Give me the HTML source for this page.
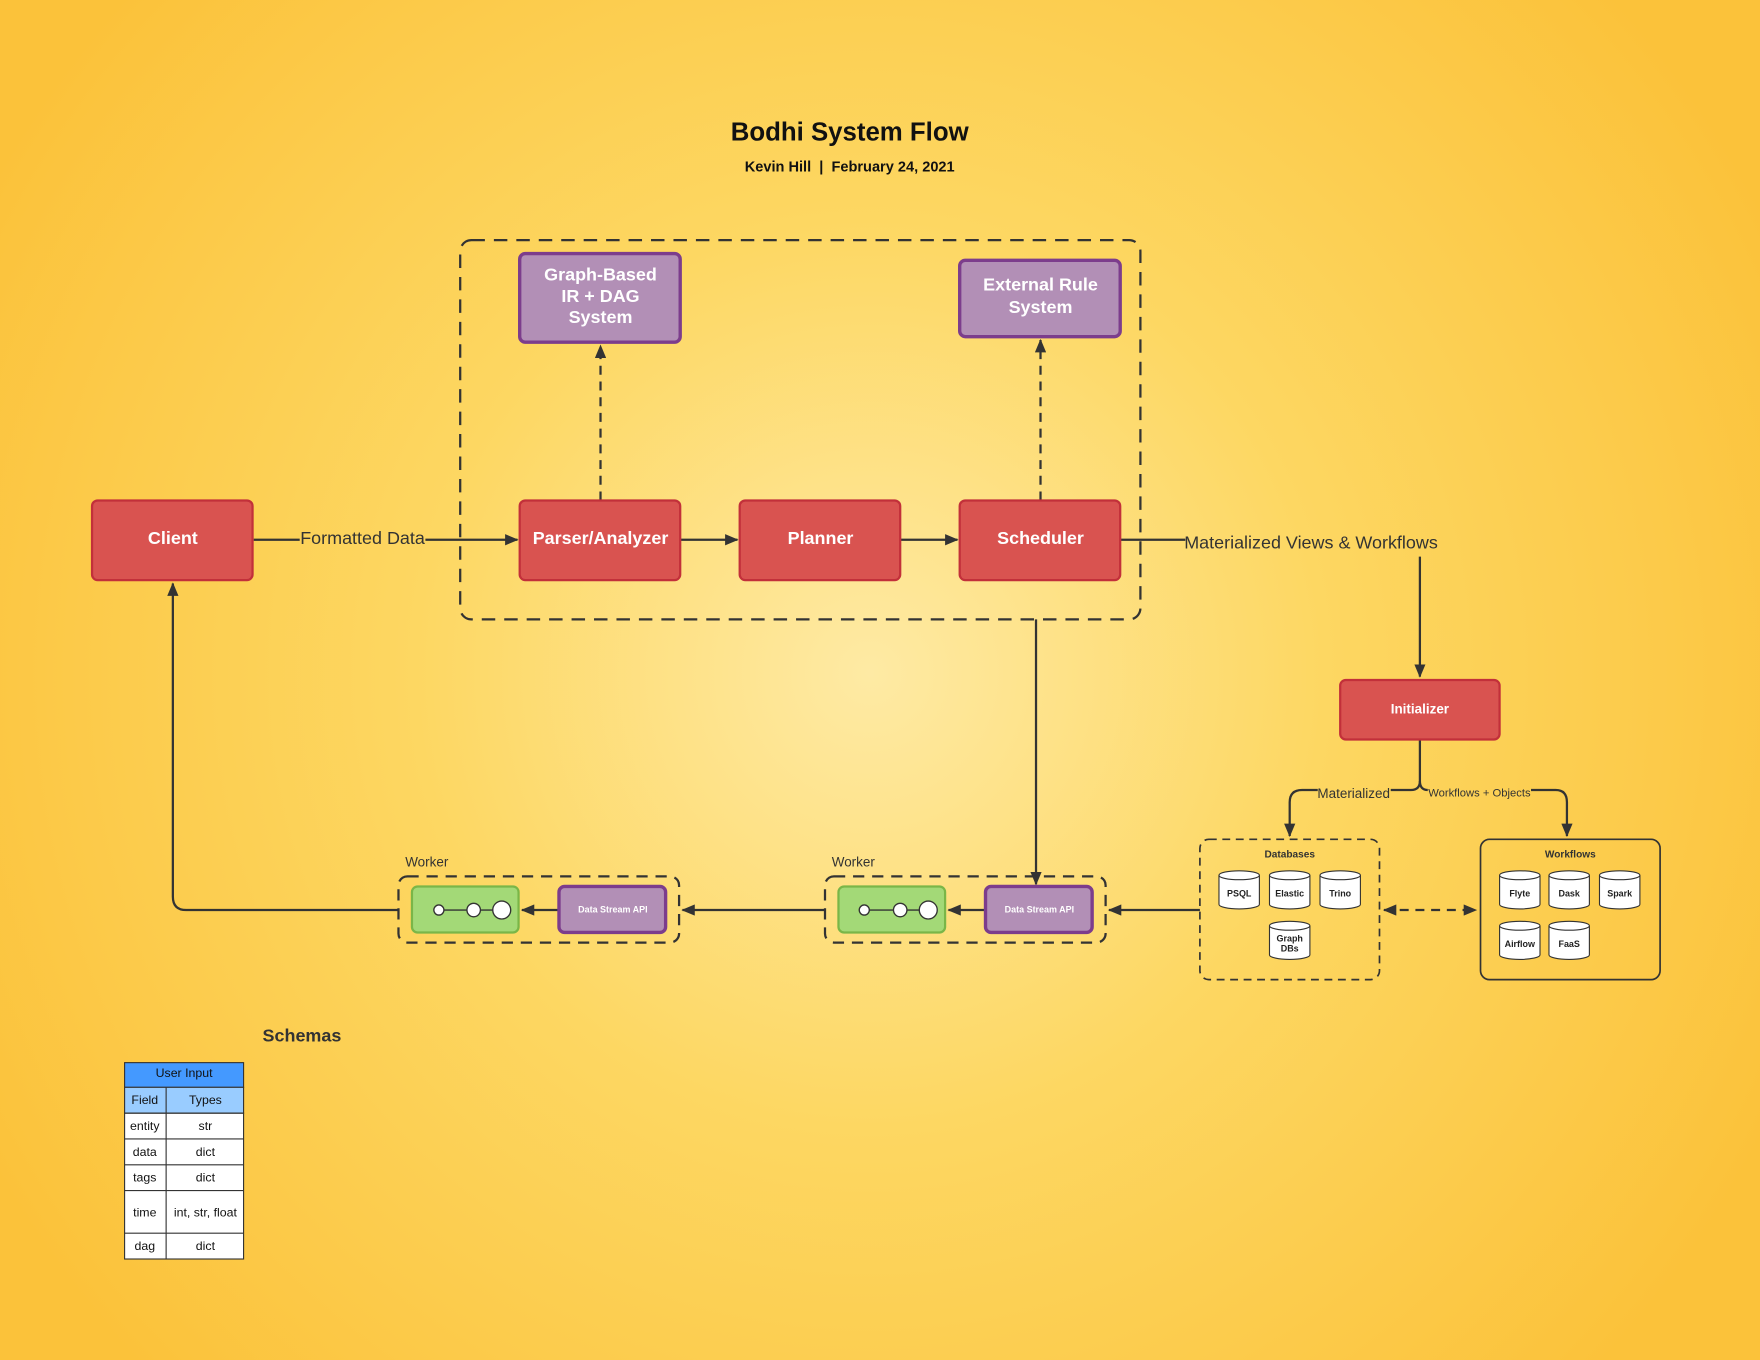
<!DOCTYPE html>
<html><head><style>html,body{margin:0;padding:0;width:1760px;height:1360px;overflow:hidden}</style></head>
<body>
<svg width="1760" height="1360" viewBox="0 0 1568 1212" preserveAspectRatio="none" xmlns="http://www.w3.org/2000/svg" font-family="Liberation Sans, Arial, sans-serif">
<defs>
<radialGradient id="bg" cx="775" cy="600" r="900" gradientUnits="userSpaceOnUse">
<stop offset="0" stop-color="#feeaa4"/><stop offset="0.45" stop-color="#fdd762"/><stop offset="1" stop-color="#fbc23a"/>
</radialGradient>
<marker id="ah" markerWidth="12" markerHeight="10" refX="11" refY="5" orient="auto" markerUnits="userSpaceOnUse"><path d="M0,0 L12,5 L0,10 Z" fill="#333"/></marker>
<marker id="ahs" markerWidth="12" markerHeight="10" refX="1" refY="5" orient="auto" markerUnits="userSpaceOnUse"><path d="M12,0 L0,5 L12,10 Z" fill="#333"/></marker>
</defs>
<rect width="1568" height="1212" fill="url(#bg)"/>
<text x="757" y="125" text-anchor="middle" font-size="23" font-weight="bold" fill="#111">Bodhi System Flow</text>
<text x="757" y="153" text-anchor="middle" font-size="13" font-weight="bold" fill="#111" xml:space="preserve">Kevin Hill  |  February 24, 2021</text>

<rect x="410" y="214" width="606" height="338" rx="10" fill="none" stroke="#333" stroke-width="2" stroke-dasharray="12 8"/>

<g stroke="#333" stroke-width="2" fill="none">
<line x1="535" y1="446" x2="535" y2="308" stroke-dasharray="8 6" marker-end="url(#ah)"/>
<line x1="927" y1="446" x2="927" y2="303" stroke-dasharray="8 6" marker-end="url(#ah)"/>
<line x1="226" y1="481" x2="267" y2="481"/>
<line x1="379" y1="481" x2="461" y2="481" marker-end="url(#ah)"/>
<line x1="606" y1="481" x2="657" y2="481" marker-end="url(#ah)"/>
<line x1="802" y1="481" x2="853" y2="481" marker-end="url(#ah)"/>
<line x1="998" y1="481" x2="1056" y2="481"/>
<line x1="1265" y1="496" x2="1265" y2="603" marker-end="url(#ah)"/>
<line x1="923" y1="552" x2="923" y2="788" marker-end="url(#ah)"/>
<path d="M1174,704 L1160,704 Q1149,704 1149,715 L1149,745" marker-end="url(#ah)"/>
<path d="M1265,659 L1265,696 Q1265,704 1257,704 L1239,704"/>
<path d="M1265,696 Q1265,704 1272,704"/>
<path d="M1364,704 L1386,704 Q1396,704 1396,715 L1396,745" marker-end="url(#ah)"/>
<line x1="1069" y1="811" x2="988" y2="811" marker-end="url(#ah)"/>
<line x1="1233" y1="811" x2="1315" y2="811" stroke-dasharray="8 6" marker-start="url(#ahs)" marker-end="url(#ah)"/>
<line x1="735" y1="811" x2="608" y2="811" marker-end="url(#ah)"/>
<path d="M355,811 L166,811 Q154,811 154,799 L154,520" marker-end="url(#ah)"/>
<line x1="878" y1="811" x2="845" y2="811" marker-end="url(#ah)"/>
<line x1="498" y1="811" x2="465" y2="811" marker-end="url(#ah)"/>
</g>

<text x="323" y="485" text-anchor="middle" font-size="16" fill="#333">Formatted Data</text>
<text x="1168" y="489" text-anchor="middle" font-size="16" fill="#333">Materialized Views &amp; Workflows</text>
<text x="1206" y="711" text-anchor="middle" font-size="12" fill="#333">Materialized</text>
<text x="1318" y="710" text-anchor="middle" font-size="10" fill="#333">Workflows + Objects</text>

<g stroke="#c2303a" stroke-width="2" fill="#d95350">
<rect x="82" y="446" width="143" height="71" rx="5"/>
<rect x="463" y="446" width="143" height="71" rx="5"/>
<rect x="659" y="446" width="143" height="71" rx="5"/>
<rect x="855" y="446" width="143" height="71" rx="5"/>
<rect x="1194" y="606" width="142" height="53" rx="5"/>
</g>
<g fill="#fff" font-weight="bold" text-anchor="middle" font-size="16">
<text x="154" y="485">Client</text>
<text x="535" y="485">Parser/Analyzer</text>
<text x="731" y="485">Planner</text>
<text x="927" y="485">Scheduler</text>
<text x="1265" y="636" font-size="12">Initializer</text>
</g>

<g stroke="#7c3d8c" stroke-width="3" fill="#b28fb6">
<rect x="463" y="226" width="143" height="79" rx="5"/>
<rect x="855" y="232" width="143" height="68" rx="5"/>
</g>
<g fill="#fff" font-weight="bold" text-anchor="middle" font-size="16">
<text x="535" y="250">Graph-Based</text><text x="535" y="269">IR + DAG</text><text x="535" y="288">System</text>
<text x="927" y="259">External Rule</text><text x="927" y="279">System</text>
</g>

<g>
<rect x="355" y="781" width="250" height="59" rx="8" fill="none" stroke="#333" stroke-width="2" stroke-dasharray="10 7"/>
<rect x="735" y="781" width="250" height="59" rx="8" fill="none" stroke="#333" stroke-width="2" stroke-dasharray="10 7"/>
<text x="361" y="772" font-size="12" fill="#333">Worker</text>
<text x="741" y="772" font-size="12" fill="#333">Worker</text>
<rect x="367" y="790" width="95" height="41" rx="5" fill="#a3d977" stroke="#7ab648" stroke-width="2"/>
<rect x="747" y="790" width="95" height="41" rx="5" fill="#a3d977" stroke="#7ab648" stroke-width="2"/>
<rect x="498" y="790" width="95" height="41" rx="5" fill="#b28fb6" stroke="#7c3d8c" stroke-width="3"/>
<rect x="878" y="790" width="95" height="41" rx="5" fill="#b28fb6" stroke="#7c3d8c" stroke-width="3"/>
<text x="546" y="813" text-anchor="middle" font-size="8" font-weight="bold" fill="#fff">Data Stream API</text>
<text x="926" y="813" text-anchor="middle" font-size="8" font-weight="bold" fill="#fff">Data Stream API</text>
<g stroke="#333" stroke-width="1.2" fill="#fff">
<line x1="391" y1="811" x2="447" y2="811"/><circle cx="391" cy="811" r="4.5"/><circle cx="422" cy="811" r="6"/><circle cx="447" cy="811" r="8"/>
<line x1="770" y1="811" x2="827" y2="811"/><circle cx="770" cy="811" r="4.5"/><circle cx="802" cy="811" r="6"/><circle cx="827" cy="811" r="8"/>
</g>
</g>

<rect x="1069" y="748" width="160" height="125" rx="8" fill="none" stroke="#333" stroke-width="1.5" stroke-dasharray="7 5"/>
<rect x="1319" y="748" width="160" height="125" rx="8" fill="none" stroke="#333" stroke-width="1.5"/>
<text x="1149" y="764" text-anchor="middle" font-size="9" font-weight="bold" fill="#333">Databases</text>
<text x="1399" y="764" text-anchor="middle" font-size="9" font-weight="bold" fill="#333">Workflows</text>
<g stroke="#333" stroke-width="1" fill="#fff" font-size="8" font-weight="bold">
<g transform="translate(1104,776)"><path d="M-18,4 L-18,30 A18,4 0 0 0 18,30 L18,4"/><ellipse cx="0" cy="4" rx="18" ry="4"/><text y="23" text-anchor="middle" stroke="none" fill="#222">PSQL</text></g>
<g transform="translate(1149,776)"><path d="M-18,4 L-18,30 A18,4 0 0 0 18,30 L18,4"/><ellipse cx="0" cy="4" rx="18" ry="4"/><text y="23" text-anchor="middle" stroke="none" fill="#222">Elastic</text></g>
<g transform="translate(1194,776)"><path d="M-18,4 L-18,30 A18,4 0 0 0 18,30 L18,4"/><ellipse cx="0" cy="4" rx="18" ry="4"/><text y="23" text-anchor="middle" stroke="none" fill="#222">Trino</text></g>
<g transform="translate(1149,821)"><path d="M-18,4 L-18,30 A18,4 0 0 0 18,30 L18,4"/><ellipse cx="0" cy="4" rx="18" ry="4"/><text y="18" text-anchor="middle" stroke="none" fill="#222">Graph</text><text y="27" text-anchor="middle" stroke="none" fill="#222">DBs</text></g>
<g transform="translate(1354,776)"><path d="M-18,4 L-18,30 A18,4 0 0 0 18,30 L18,4"/><ellipse cx="0" cy="4" rx="18" ry="4"/><text y="23" text-anchor="middle" stroke="none" fill="#222">Flyte</text></g>
<g transform="translate(1398,776)"><path d="M-18,4 L-18,30 A18,4 0 0 0 18,30 L18,4"/><ellipse cx="0" cy="4" rx="18" ry="4"/><text y="23" text-anchor="middle" stroke="none" fill="#222">Dask</text></g>
<g transform="translate(1443,776)"><path d="M-18,4 L-18,30 A18,4 0 0 0 18,30 L18,4"/><ellipse cx="0" cy="4" rx="18" ry="4"/><text y="23" text-anchor="middle" stroke="none" fill="#222">Spark</text></g>
<g transform="translate(1354,821)"><path d="M-18,4 L-18,30 A18,4 0 0 0 18,30 L18,4"/><ellipse cx="0" cy="4" rx="18" ry="4"/><text y="23" text-anchor="middle" stroke="none" fill="#222">Airflow</text></g>
<g transform="translate(1398,821)"><path d="M-18,4 L-18,30 A18,4 0 0 0 18,30 L18,4"/><ellipse cx="0" cy="4" rx="18" ry="4"/><text y="23" text-anchor="middle" stroke="none" fill="#222">FaaS</text></g>
</g>

<text x="269" y="928" text-anchor="middle" font-size="16" font-weight="bold" fill="#333">Schemas</text>
<g stroke="#333" stroke-width="1">
<rect x="111" y="947" width="106" height="22" fill="#4499ff"/>
<rect x="111" y="969" width="106" height="23" fill="#99ccff"/>
<rect x="111" y="992" width="106" height="130" fill="#fff"/>
<line x1="148" y1="969" x2="148" y2="1122"/>
<line x1="111" y1="992" x2="217" y2="992"/>
<line x1="111" y1="1015" x2="217" y2="1015"/>
<line x1="111" y1="1038" x2="217" y2="1038"/>
<line x1="111" y1="1061" x2="217" y2="1061"/>
<line x1="111" y1="1099" x2="217" y2="1099"/>
</g>
<g font-size="11" fill="#111" text-anchor="middle">
<text x="164" y="960">User Input</text>
<text x="129" y="984">Field</text><text x="183" y="984">Types</text>
<text x="129" y="1007">entity</text><text x="183" y="1007">str</text>
<text x="129" y="1030">data</text><text x="183" y="1030">dict</text>
<text x="129" y="1053">tags</text><text x="183" y="1053">dict</text>
<text x="129" y="1084">time</text><text x="183" y="1084">int, str, float</text>
<text x="129" y="1114">dag</text><text x="183" y="1114">dict</text>
</g>
</svg>
</body></html>
